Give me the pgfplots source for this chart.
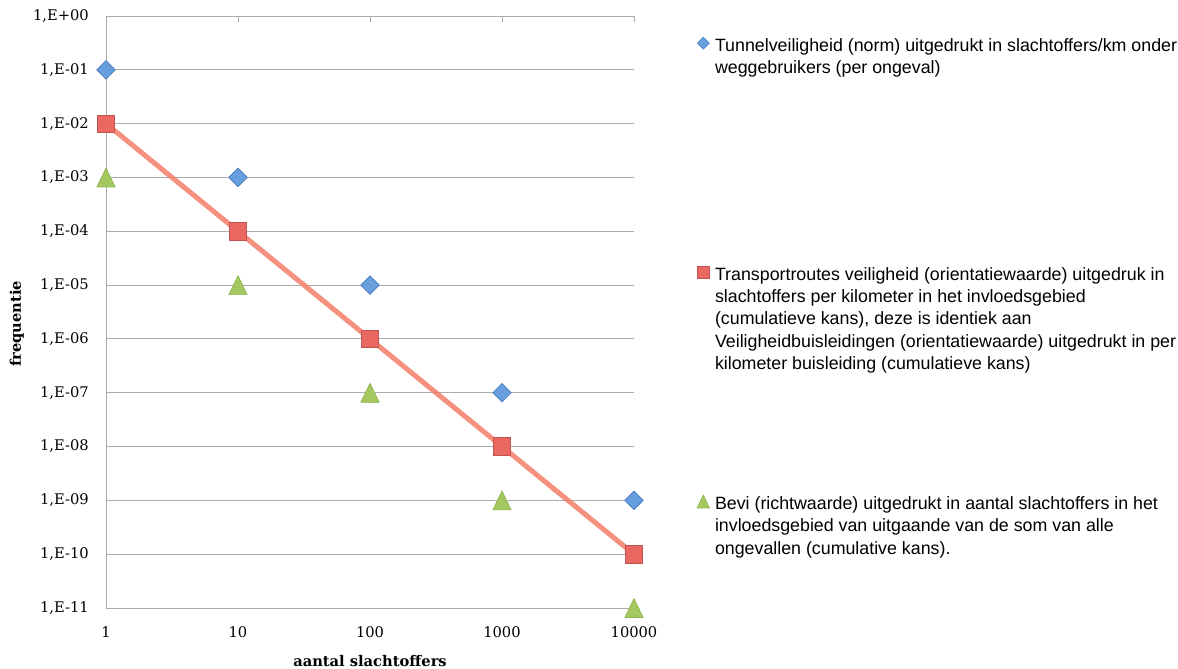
\documentclass[border=0pt]{standalone}
\usepackage{pgfplots}
\pgfplotsset{compat=1.18}
\usepackage{fontspec}
\setmainfont{DejaVu Serif}
\newfontfamily\legfont{Liberation Sans}
\definecolor{gridc}{RGB}{172,172,172}
\definecolor{blueF}{RGB}{102,158,222}
\definecolor{blueD}{RGB}{72,122,190}
\definecolor{redF}{RGB}{234,104,98}
\definecolor{redD}{RGB}{196,82,78}
\definecolor{greenF}{RGB}{164,200,96}
\definecolor{greenD}{RGB}{142,180,80}
\definecolor{lineC}{RGB}{244,124,104}
\newcommand\tickf{\fontsize{11}{13}\selectfont}
\newcommand\legf{\legfont\fontsize{13.35}{16.7}\selectfont}
\begin{document}
\begin{tikzpicture}
\path[use as bounding box] (0,0) rectangle (883.5pt,501pt);
\begin{axis}[
  at={(79.5pt,45pt)}, anchor=south west,
  scale only axis, width=396pt, height=444pt,
  xmode=log, ymode=log,
  xmin=1, xmax=10000, ymin=1e-11, ymax=1,
  clip=false,
  axis line style={draw=none},
  xtick={1,10,100,1000,10000},
  xticklabels={1,10,100,1000,10000},
  ytick={1e-11,1e-10,1e-9,1e-8,1e-7,1e-6,1e-5,1e-4,1e-3,1e-2,1e-1,1},
  yticklabels={{1,E-11},{1,E-10},{1,E-09},{1,E-08},{1,E-07},{1,E-06},{1,E-05},{1,E-04},{1,E-03},{1,E-02},{1,E-01},{1,E+00}},
  xminorticks=false, yminorticks=false,
  xtick pos=right, xticklabel pos=left,
  tick align=inside,
  major tick length=4.5pt,
  xtick style={draw=gridc, line width=0.75pt},
  ytick style={draw=none},
  ymajorgrids, grid style={draw=gridc, line width=0.75pt},
  ticklabel style={font=\tickf},
  xticklabel style={anchor=center, yshift=-18pt},
  yticklabel style={anchor=east, inner sep=0pt, xshift=-12.75pt},
  xlabel={\bfseries aantal slachtoffers},
  ylabel={\bfseries frequentie},
  label style={font=\tickf},
  xlabel style={at={(axis description cs:0.5,-0.0895)}, anchor=center},
  ylabel style={at={(axis description cs:-0.169,0.48)}, anchor=center},
  legend style={at={(axis description cs:1.1193,0.9715)}, anchor=north west,
    draw=none, fill=none, inner sep=0pt, outer sep=0pt, row sep=0pt,
    column sep=2pt, font=\legf, cells={anchor=base west, inner sep=0pt}},
]
\draw[gridc, line width=0.75pt] (rel axis cs:0,0) -- (rel axis cs:0,1);
\addplot[only marks, mark=square*, mark size=4.9pt,
  mark options={rotate=45, fill=blueF, draw=blueD, line width=0.5pt},
  legend image code/.code={\path[draw=none, fill=none] (0pt,0pt) -- (0pt,-158.2pt);\draw[mark=square*, mark size=3.2pt, mark options={rotate=45, fill=blueF, draw=blueD, line width=0.4pt}] plot coordinates {(0pt,6pt)};}]
  coordinates {(1,1e-1) (10,1e-3) (100,1e-5) (1000,1e-7) (10000,1e-9)};
\addlegendentry{\parbox[t]{360pt}{\strut Tunnelveiligheid (norm) uitgedrukt in slachtoffers/km onder\\weggebruikers (per ongeval)}}
\addplot[only marks, mark=square*, mark size=6.6pt,
  mark options={fill=redF, draw=redD, line width=0.5pt},
  legend image code/.code={\path[draw=none, fill=none] (0pt,0pt) -- (0pt,-158.2pt);\draw[mark=square*, mark size=4.5pt, mark options={fill=redF, draw=redD, line width=0.4pt}] plot coordinates {(0pt,6pt)};}]
  coordinates {(1,1e-2) (10,1e-4) (100,1e-6) (1000,1e-8) (10000,1e-10)};
\addlegendentry{\parbox[t]{360pt}{\strut Transportroutes veiligheid (orientatiewaarde) uitgedruk in\\slachtoffers per kilometer in het invloedsgebied\\(cumulatieve kans), deze is identiek aan\\Veiligheidbuisleidingen (orientatiewaarde) uitgedrukt in per\\kilometer buisleiding (cumulatieve kans)}}
\addplot[only marks, mark=triangle*, mark size=7.9pt,
  mark options={yscale=1.2, yshift=-2pt, fill=greenF, draw=greenD, line width=0.5pt},
  legend image code/.code={\draw[mark=triangle*, mark size=5.5pt, mark options={yscale=1.2, yshift=-1.4pt, fill=greenF, draw=greenD, line width=0.4pt}] plot coordinates {(0pt,6pt)};}]
  coordinates {(1,1e-3) (10,1e-5) (100,1e-7) (1000,1e-9) (10000,1e-11)};
\addlegendentry{\parbox[t]{360pt}{\strut Bevi (richtwaarde) uitgedrukt in aantal slachtoffers in het\\invloedsgebied van uitgaande van de som van alle\\ongevallen (cumulative kans).}}
\addplot[lineC, line width=3.75pt, opacity=0.85, forget plot]
  coordinates {(1,1e-2) (10,1e-4) (100,1e-6) (1000,1e-8) (10000,1e-10)};
\end{axis}
\end{tikzpicture}
\end{document}
